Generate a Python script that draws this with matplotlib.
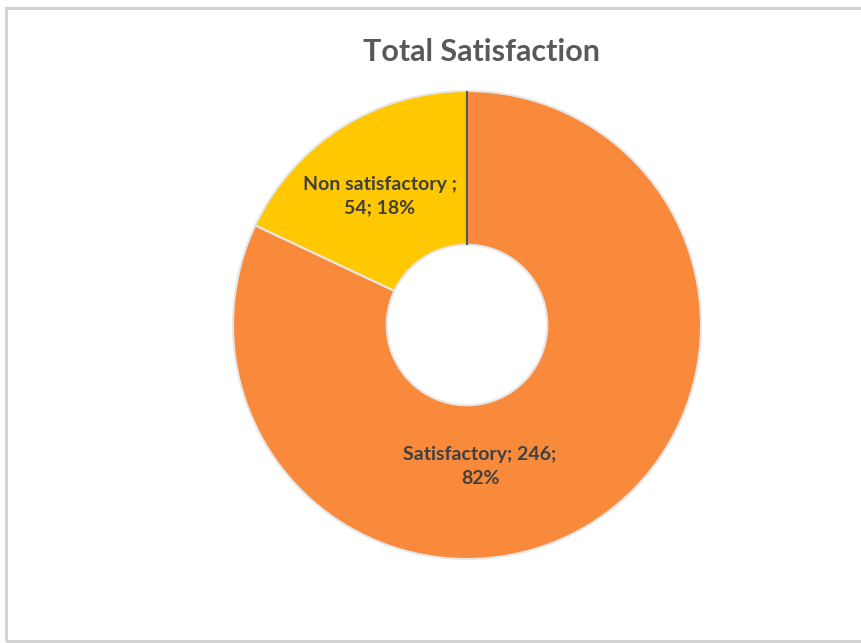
import matplotlib
matplotlib.use("Agg")
import matplotlib.pyplot as plt
from matplotlib.patches import Rectangle

categories = ["Satisfactory", "Non satisfactory "]
values = [246, 54]
percents = ["82%", "18%"]
colors = ["#F98A3B", "#FFC800"]
title = "Total Satisfaction"

W, H = 861, 643
fig = plt.figure(figsize=(W / 100, H / 100), dpi=100)
fig.patch.set_facecolor("white")

# outer frame
fig.patches.append(Rectangle((6 / W, 2 / H), (W + 10 - 6) / W, (641 - 8) / H,
                             transform=fig.transFigure, fill=False,
                             edgecolor="#d3d3d3", linewidth=2.2))

cx, cy, R = 467, 325, 234
ax = fig.add_axes([(cx - R) / W, (H - cy - R) / H, 2 * R / W, 2 * R / H])
inner = 0.343
wedges, _ = ax.pie(values, colors=colors, startangle=90, counterclock=False,
                   radius=1.0, wedgeprops=dict(width=1 - inner, edgecolor="#e6e6e6",
                                               linewidth=1.5))
ax.plot([0, 0], [inner, 1.0], color="#5a5a5a", lw=1.6, solid_capstyle="butt")
ax.set_xlim(-1.0, 1.0)
ax.set_ylim(-1.0, 1.0)
ax.set_aspect("equal")
ax.axis("off")

lab_font = dict(family=["Lato", "DejaVu Sans"], fontweight="bold", fontsize=14,
                color="#404040", ha="center", va="center", linespacing=1.45)
ax.text(0.056, -0.605, f"{categories[0]}; {values[0]};\n{percents[0]}", **lab_font)
ax.text(-0.373, 0.55, f"{categories[1]};\n{values[1]}; {percents[1]}", **lab_font)

fig.text(482 / W, 1 - 52 / H, title, family=["Lato", "DejaVu Sans"], fontweight="bold",
         fontsize=22, color="#595959", ha="center", va="center")

fig.savefig("out.png", dpi=100)
